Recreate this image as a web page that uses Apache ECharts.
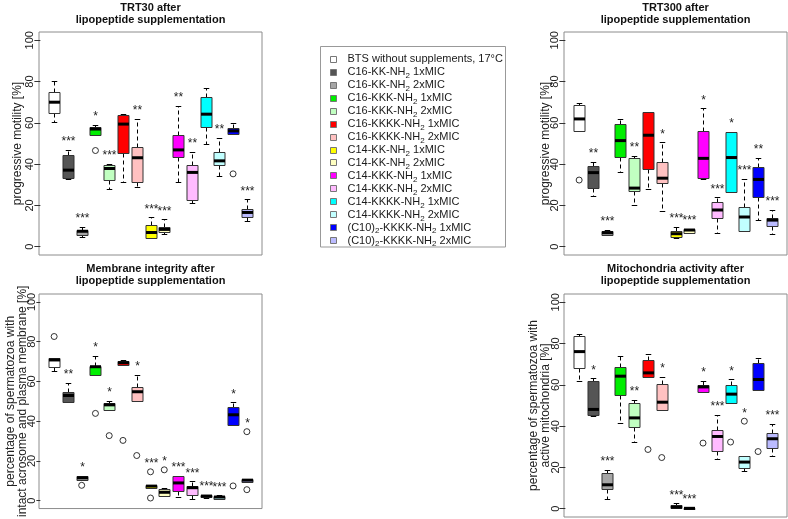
<!DOCTYPE html>
<html><head><meta charset="utf-8">
<script src="https://cdn.jsdelivr.net/npm/echarts@6/dist/echarts.min.js"></script>
<style>html,body{margin:0;padding:0;background:#fff}#c{width:788px;height:519px}</style>
</head><body><div id="c"></div>
<script>
// ---------- DATA ----------
const groupNames = [
  'BTS without supplements, 17°C',
  'C16-KK-NH_2 1xMIC', 'C16-KK-NH_2 2xMIC',
  'C16-KKK-NH_2 1xMIC', 'C16-KKK-NH_2 2xMIC',
  'C16-KKKK-NH_2 1xMIC', 'C16-KKKK-NH_2 2xMIC',
  'C14-KK-NH_2 1xMIC', 'C14-KK-NH_2 2xMIC',
  'C14-KKK-NH_2 1xMIC', 'C14-KKK-NH_2 2xMIC',
  'C14-KKKK-NH_2 1xMIC', 'C14-KKKK-NH_2 2xMIC',
  '(C10)_2-KKKK-NH_2 1xMIC', '(C10)_2-KKKK-NH_2 2xMIC'
];
const groupColors = [
  '#FFFFFF', '#555555', '#A6A6A6', '#00EE00', '#C1FFC1', '#FF0000', '#FFC1C1',
  '#FFFF00', '#FFFFC1', '#FF00FF', '#FFBBFF', '#00FFFF', '#C1FFFF', '#0000FF', '#BBBBFF'
];
const yTicks = [0, 20, 40, 60, 80, 100];

// [min, Q1, median, Q3, max]
const trt30Stats = [
  [60.2, 64.8, 70.0, 74.8, 80.5], [32.6, 33.5, 37.1, 44.2, 46.8], [4.7, 5.8, 7.5, 8.2, 9.7],
  [54.0, 54.0, 57.0, 58.2, 58.9], [28.1, 32.3, 37.9, 39.7, 40.2], [31.5, 45.6, 59.4, 64.0, 64.4],
  [28.7, 31.5, 43.1, 48.4, 61.9], [4.0, 4.0, 6.9, 10.3, 14.2], [6.1, 6.9, 8.4, 9.5, 13.2],
  [31.5, 43.5, 46.9, 54.2, 68.4], [21.0, 22.4, 36.0, 39.4, 46.0], [50.0, 57.9, 64.2, 72.6, 77.1],
  [34.4, 39.4, 41.6, 46.0, 52.9], [54.4, 54.4, 56.1, 57.3, 59.7], [12.4, 14.5, 16.6, 18.5, 22.9]
];
const trt30Outliers = [[4, 46.6], [14, 35.3]];
const trt30Stars = ['', '***', '***', '*', '***', '', '**', '***', '***', '**', '**', '', '**', '', '***'];

const trt300Stats = [
  [56.0, 56.0, 61.9, 68.7, 69.4], [24.7, 28.4, 35.9, 38.9, 41.0], [5.5, 5.6, 6.8, 7.7, 8.1],
  [36.1, 43.4, 51.4, 59.4, 62.1], [20.3, 26.8, 28.4, 42.9, 44.0], [28.0, 37.6, 54.0, 65.2, 65.2],
  [17.1, 30.8, 33.2, 40.8, 50.6], [4.2, 4.7, 6.3, 7.4, 9.7], [6.5, 6.5, 8.1, 8.4, 8.7],
  [32.8, 33.4, 42.8, 56.1, 67.0], [6.5, 14.0, 17.8, 21.5, 23.9], [26.3, 26.3, 43.2, 55.6, 55.6],
  [7.8, 7.8, 14.4, 19.2, 32.8], [12.9, 24.2, 32.6, 38.7, 43.2], [6.1, 10.2, 12.9, 14.0, 17.8]
];
const trt300Outliers = [[1, 32.3]];
const trt300Stars = ['', '**', '***', '', '**', '', '*', '***', '***', '*', '***', '*', '***', '**', '***'];

const membraneStats = [
  [65.3, 67.4, 70.8, 71.9, 71.9], [49.7, 49.7, 52.9, 54.8, 59.2], [10.5, 10.5, 11.5, 12.3, 12.3],
  [63.1, 63.1, 67.4, 67.7, 72.7], [45.5, 45.5, 48.2, 48.9, 50.2], [68.2, 68.2, 69.4, 70.2, 71.0],
  [50.0, 50.0, 54.8, 57.3, 63.4], [6.5, 6.5, 7.3, 8.1, 8.1], [2.1, 2.4, 4.2, 5.6, 6.1],
  [1.8, 5.0, 8.9, 12.6, 12.6], [1.0, 2.9, 6.5, 7.3, 9.7], [1.3, 1.6, 2.3, 2.6, 2.9],
  [1.0, 1.0, 1.8, 2.3, 2.7], [38.2, 38.2, 43.2, 47.3, 49.5], [9.4, 9.4, 10.3, 11.0, 11.1]
];
const membraneOutliers = [[1, 82.6], [3, 7.7], [4, 43.9], [5, 32.7], [6, 30.3], [7, 22.7],
  [8, 1.3], [8, 14.5], [9, 15.5], [14, 7.4], [15, 34.7], [15, 5.5]];
const membraneStars = ['', '**', '*', '*', '*', '', '*', '***', '*', '***', '***', '***', '***', '*', '*'];

const mitoStats = [
  [61.9, 68.2, 76.1, 83.5, 84.7], [44.8, 45.3, 48.1, 61.8, 63.2], [4.8, 9.7, 11.6, 17.4, 18.7],
  [41.3, 55.0, 64.2, 68.7, 73.9], [32.3, 39.7, 44.0, 51.0, 52.6], [63.9, 63.9, 65.8, 71.8, 74.7],
  [47.7, 47.7, 51.6, 60.2, 63.9], [0.2, 0.2, 0.8, 1.6, 2.6], [0.0, 0.0, 0.2, 0.4, 0.5],
  [56.5, 56.5, 59.0, 59.8, 61.9], [24.2, 27.9, 35.0, 38.2, 45.5], [51.3, 51.3, 55.5, 59.7, 62.6],
  [18.5, 19.8, 22.6, 25.5, 25.5], [57.3, 57.3, 62.6, 70.5, 73.2], [25.5, 29.4, 33.9, 36.5, 41.0]
];
const mitoOutliers = [[6, 28.7], [7, 24.8], [10, 31.8], [12, 32.3], [13, 42.4], [14, 27.7]];
const mitoStars = ['', '*', '***', '', '**', '', '*', '***', '***', '*', '***', '*', '*', '', '***'];

const panelTitles = [
  'TRT30 after\nlipopeptide supplementation',
  'TRT300 after\nlipopeptide supplementation',
  'Membrane integrity after\nlipopeptide supplementation',
  'Mitochondria activity after\nlipopeptide supplementation'
];
const axisTitles = [
  'progressive motility [%]',
  'progressive motility [%]',
  'percentage of spermatozoa with\nintact acrosome and plasma membrane [%]',
  'percentage of spermatozoa with\nactive mitochondria [%]'
];

// ---------- CHART ----------
const FONT = 'Liberation Sans, Arial, sans-serif';
const panels = [
  {stats: trt30Stats, out: trt30Outliers, stars: trt30Stars, grid: {left: 39, top: 32}, gap: 15, tTop: 1.5, tick: 6, margin: 4},
  {stats: trt300Stats, out: trt300Outliers, stars: trt300Stars, grid: {left: 564, top: 32}, gap: 12.5, tTop: 1.5, tick: 6, margin: 4},
  {stats: membraneStats, out: membraneOutliers, stars: membraneStars, grid: {left: 39, top: 294}, gap: 10, tTop: 262.5, tick: 4, margin: 2},
  {stats: mitoStats, out: mitoOutliers, stars: mitoStars, grid: {left: 564, top: 294}, gap: 12.5, tTop: 262.5, tick: 6, margin: 3}
];

function makeRender(p) {
  return function (params, api) {
    const i = params.dataIndex;
    const x = api.value(0);
    const vals = [1, 2, 3, 4, 5].map(k => api.value(k));
    const pts = vals.map(v => api.coord([x, v]));
    const cx = Math.round(pts[0][0]) + 0.5;
    const w = api.size([0.8, 0])[0];
    const half = w / 2, st = w / 4;
    const y = pts.map(q => Math.round(q[1]) + 0.5);
    const line = (x1, y1, x2, y2, dash, lw) => ({
      type: 'line', shape: {x1, y1, x2, y2},
      style: {stroke: '#000', lineWidth: lw || 1, lineDash: dash || null}
    });
    const ch = [];
    if (y[4] < y[3]) ch.push(line(cx, y[3], cx, y[4], [4, 3]));
    if (y[0] > y[1]) ch.push(line(cx, y[1], cx, y[0], [4, 3]));
    ch.push(line(cx - st, y[4], cx + st, y[4]));
    ch.push(line(cx - st, y[0], cx + st, y[0]));
    ch.push({type: 'rect', shape: {x: cx - half, y: y[3], width: w, height: Math.max(y[1] - y[3], 1)},
      style: {fill: groupColors[i], stroke: '#333', lineWidth: 1}});
    ch.push(line(cx - half, pts[2][1], cx + half, pts[2][1], null, 3));
    if (p.stars[i]) {
      let top = vals[4];
      p.out.forEach(o => { if (o[0] === x && o[1] > top) top = o[1]; });
      const sy = api.coord([x, top])[1] - 8;
      ch.push({type: 'text', x: cx, y: sy, style: {text: p.stars[i], textAlign: 'center', align: 'center',
        textVerticalAlign: 'middle', verticalAlign: 'middle', font: '12px ' + FONT, fill: '#222'}});
    }
    return {type: 'group', children: ch};
  };
}

const grid = [], xAxis = [], yAxis = [], series = [], title = [];
panels.forEach((p, k) => {
  grid.push({left: p.grid.left, top: p.grid.top, width: 223, height: 223, show: true,
    borderColor: '#8c8c8c', borderWidth: 1, backgroundColor: 'transparent'});
  xAxis.push({type: 'value', gridIndex: k, min: -0.1, max: 16.1, show: false});
  yAxis.push({type: 'value', gridIndex: k, min: -4, max: 104,
    axisLine: {show: false}, splitLine: {show: false},
    axisTick: {show: true, customValues: yTicks, length: p.tick, lineStyle: {color: '#333'}},
    axisLabel: {customValues: yTicks, rotate: 90, margin: p.margin, fontSize: 11, color: '#222', fontFamily: FONT},
    name: axisTitles[k], nameLocation: 'middle', nameRotate: 90, nameGap: p.gap, nameMoveOverlap: false,
    nameTextStyle: {fontSize: 12, color: '#222', fontFamily: FONT, lineHeight: 12}});
  series.push({type: 'custom', xAxisIndex: k, yAxisIndex: k, renderItem: makeRender(p),
    data: p.stats.map((s, j) => [j + 1].concat(s)), silent: true, clip: false});
  series.push({type: 'scatter', xAxisIndex: k, yAxisIndex: k, data: p.out, symbol: 'circle', symbolSize: 6,
    itemStyle: {color: 'rgba(0,0,0,0)', borderColor: '#000', borderWidth: 1}, silent: true});
  title.push({text: panelTitles[k], left: p.grid.left + 111.5, top: p.tTop, textAlign: 'center', padding: 0,
    textStyle: {fontSize: 11, fontWeight: 'bold', lineHeight: 12, color: '#111', fontFamily: FONT}});
});

// legend drawn from names/colors
const legendChildren = [{type: 'rect', shape: {x: 320.5, y: 46.5, width: 185, height: 200.5},
  style: {fill: '#fff', stroke: '#999', lineWidth: 1}}];
groupNames.forEach((nm, i) => {
  const yc = 59.3 + 12.96 * i;
  legendChildren.push({type: 'rect', shape: {x: 330.5, y: Math.round(yc - 3.5) + 0.5, width: 6, height: 6},
    style: {fill: groupColors[i], stroke: '#777', lineWidth: 1}});
  const parts = nm.split('_2');
  let rich = '';
  parts.forEach((s, j) => { rich += '{n|' + s + '}'; if (j < parts.length - 1) rich += '{s|2}'; });
  legendChildren.push({type: 'text', x: 347.5, y: yc, style: {text: rich, align: 'left', verticalAlign: 'middle',
    rich: {n: {fontSize: 11, lineHeight: 15, fontFamily: FONT, fill: '#1a1a1a', color: '#1a1a1a'},
           s: {fontSize: 8, lineHeight: 8, verticalAlign: 'bottom', fontFamily: FONT, fill: '#1a1a1a', color: '#1a1a1a'}}}});
});

const chart = echarts.init(document.getElementById('c'), null, {renderer: 'canvas'});
chart.setOption({
  animation: false,
  textStyle: {fontFamily: FONT},
  title, grid, xAxis, yAxis, series,
  graphic: [{type: 'group', children: legendChildren}]
});
</script></body></html>
